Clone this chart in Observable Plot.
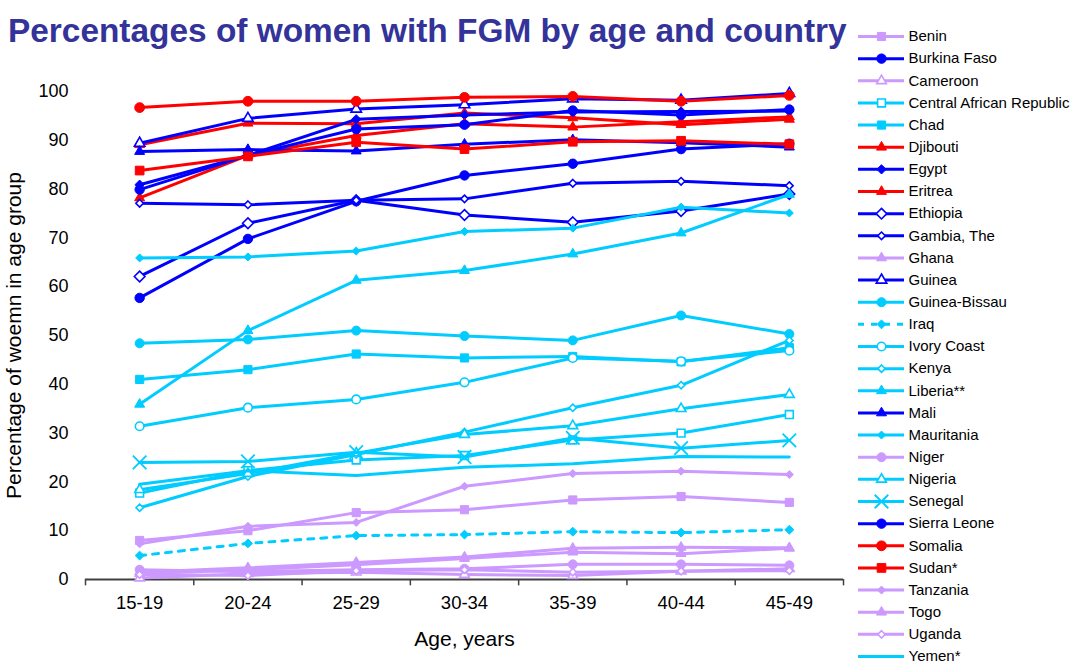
<!DOCTYPE html>
<html><head><meta charset="utf-8">
<script src="https://cdn.jsdelivr.net/npm/d3@7"></script>
<script src="https://cdn.jsdelivr.net/npm/@observablehq/plot@0.6"></script>
<style>
body{margin:0;background:#fff;font-family:"Liberation Sans",Arial,sans-serif;}
#wrap{position:relative;width:1070px;height:666px;overflow:hidden;background:#fff}
#title{position:absolute;left:8px;top:11px;font-size:33.4px;font-weight:bold;color:#333399;white-space:nowrap;line-height:1.2}
#chart{position:absolute;left:0;top:0}
#legend{position:absolute;left:850px;top:0}
</style></head><body>
<div id="wrap"><div id="chart"></div><div id="legend"></div><div id="title">Percentages of women with FGM by age and country</div></div>
<script>
// ---- data ----
const ages = ["15-19","20-24","25-29","30-34","35-39","40-44","45-49"];
const benin        = [8.0, 10.0, 13.7, 14.3, 16.3, 17.0, 15.8];
const burkinaFaso  = [57.7, 69.8, 77.5, 82.8, 85.2, 88.2, 89.3];
const cameroon     = [0.3, 1.2, 1.5, 1.0, 0.8, 1.7, 2.2];
const centralAfricanRepublic = [17.7, 22.3, 24.5, 25.4, 28.6, 30.0, 33.8];
const chad         = [41.0, 43.0, 46.2, 45.4, 45.7, 44.6, 47.5];
const djibouti     = [89.1, 93.5, 93.4, 95.6, 94.6, 93.2, 94.3];
const egypt        = [80.9, 86.9, 94.3, 95.2, 95.8, 95.9, 96.0];
const eritrea      = [78.2, 86.9, 91.0, 93.4, 92.7, 93.8, 94.8];
const ethiopia     = [62.1, 73.0, 77.7, 74.7, 73.2, 75.5, 79.0];
const gambia       = [77.1, 76.8, 77.7, 78.0, 81.2, 81.6, 80.7];
const ghana        = [1.5, 2.4, 3.5, 4.6, 6.4, 6.6, 6.5];
const guinea       = [89.4, 94.5, 96.4, 97.3, 98.5, 98.2, 99.6];
const guineaBissau = [48.4, 49.2, 51.0, 49.9, 49.0, 54.1, 50.3];
const iraq         = [4.9, 7.4, 9.0, 9.2, 9.8, 9.6, 10.2];
const ivoryCoast   = [31.4, 35.2, 36.9, 40.4, 45.4, 44.7, 46.9];
const kenya        = [14.7, 21.1, 25.6, 30.2, 35.2, 39.8, 49.0];
const liberia      = [35.9, 51.0, 61.3, 63.3, 66.7, 71.0, 78.9];
const mali         = [87.7, 88.1, 87.8, 89.2, 90.1, 89.5, 88.6];
const mauritania   = [65.9, 66.1, 67.3, 71.3, 72.0, 76.3, 75.1];
const niger        = [2.0, 1.6, 2.0, 2.2, 3.1, 3.1, 2.9];
const nigeria      = [18.4, 21.7, 25.9, 29.7, 31.5, 35.0, 37.9];
const senegal      = [24.0, 24.2, 26.1, 25.1, 29.0, 26.9, 28.5];
const sierraLeone  = [79.9, 86.9, 92.3, 93.2, 96.1, 95.2, 96.3];
const somalia      = [96.7, 98.0, 98.0, 98.8, 99.0, 98.0, 99.2];
const sudan        = [83.8, 86.7, 89.6, 88.2, 89.7, 89.9, 89.2];
const tanzania     = [7.3, 10.9, 11.7, 19.1, 21.7, 22.2, 21.5];
const togo         = [1.2, 2.0, 3.0, 4.3, 5.6, 5.3, 6.4];
const uganda       = [1.0, 0.8, 1.8, 2.0, 1.5, 1.7, 1.8];
const yemen        = [19.5, 22.3, 21.3, 23.0, 23.7, 25.2, 25.1];

const yTicks = [0, 10, 20, 30, 40, 50, 60, 70, 80, 90, 100];
const titleText = "Percentages of women with FGM by age and country";
const yLabel = "Percentage of woemn in age group";
const xLabel = "Age, years";

// ---- styles ----
const RED = "#FF0000", BLUE = "#0000FF", CYAN = "#00CCFF", PURPLE = "#CC99FF";
const series = [
  {name: "Benin", values: benin, color: PURPLE, symbol: "square", r: 4.6},
  {name: "Burkina Faso", values: burkinaFaso, color: BLUE, symbol: "circle", r: 4.7},
  {name: "Cameroon", values: cameroon, color: PURPLE, symbol: "triangle", r: 3.6, open: true},
  {name: "Central African Republic", values: centralAfricanRepublic, color: CYAN, symbol: "square", r: 4.4, open: true},
  {name: "Chad", values: chad, color: CYAN, symbol: "square", r: 4.6},
  {name: "Djibouti", values: djibouti, color: RED, symbol: "triangle", r: 3.7},
  {name: "Egypt", values: egypt, color: BLUE, symbol: "diamond2", r: 4.2},
  {name: "Eritrea", values: eritrea, color: RED, symbol: "triangle", r: 3.7},
  {name: "Ethiopia", values: ethiopia, color: BLUE, symbol: "diamond2", r: 4.8, open: true},
  {name: "Gambia, The", values: gambia, color: BLUE, symbol: "diamond2", r: 3.4, open: true},
  {name: "Ghana", values: ghana, color: PURPLE, symbol: "triangle", r: 3.7},
  {name: "Guinea", values: guinea, color: BLUE, symbol: "triangle", r: 3.9, open: true},
  {name: "Guinea-Bissau", values: guineaBissau, color: CYAN, symbol: "circle", r: 4.5},
  {name: "Iraq", values: iraq, color: CYAN, symbol: "diamond2", r: 4.0, dash: "6,7"},
  {name: "Ivory Coast", values: ivoryCoast, color: CYAN, symbol: "circle", r: 4.3, open: true},
  {name: "Kenya", values: kenya, color: CYAN, symbol: "diamond2", r: 3.3, open: true},
  {name: "Liberia**", values: liberia, color: CYAN, symbol: "triangle", r: 3.7},
  {name: "Mali", values: mali, color: BLUE, symbol: "triangle", r: 3.7},
  {name: "Mauritania", values: mauritania, color: CYAN, symbol: "diamond2", r: 3.6},
  {name: "Niger", values: niger, color: PURPLE, symbol: "circle", r: 4.5},
  {name: "Nigeria", values: nigeria, color: CYAN, symbol: "triangle", r: 3.6, open: true},
  {name: "Senegal", values: senegal, color: CYAN, symbol: "times", r: 6.2, cross: true},
  {name: "Sierra Leone", values: sierraLeone, color: BLUE, symbol: "circle", r: 4.7},
  {name: "Somalia", values: somalia, color: RED, symbol: "circle", r: 4.9},
  {name: "Sudan*", values: sudan, color: RED, symbol: "square", r: 4.9},
  {name: "Tanzania", values: tanzania, color: PURPLE, symbol: "diamond2", r: 3.6},
  {name: "Togo", values: togo, color: PURPLE, symbol: "triangle", r: 3.7},
  {name: "Uganda", values: uganda, color: PURPLE, symbol: "diamond2", r: 3.3, open: true},
  {name: "Yemen*", values: yemen, color: CYAN, symbol: null}
];

const FONT = '"Liberation Sans", Arial, Helvetica, sans-serif';

function dotOpts(s, extra) {
  return Object.assign({
    symbol: s.symbol,
    r: s.r,
    fill: s.cross ? "none" : (s.open ? "white" : s.color),
    stroke: s.color,
    strokeWidth: s.cross ? 1.8 : (s.open ? 1.6 : 1)
  }, extra);
}

// ---- main chart ----
const idx = (d, i) => i;
const bounds = ages.map((_, i) => i - 0.5).concat([ages.length - 0.5]);
const marks = [
  Plot.ruleY([0], {x1: -0.5, x2: ages.length - 0.5, stroke: "#404040", strokeWidth: 2}),
  Plot.ruleX(bounds, {y1: 0, y2: -1.3, stroke: "#404040", strokeWidth: 1.5}),
  Plot.text(ages, {x: idx, frameAnchor: "bottom", dy: 29, text: d => d, fontSize: 18.5, fill: "#000"}),
  Plot.text([xLabel], {frameAnchor: "bottom", dy: 66, text: d => d, fontSize: 21, fill: "#000"}),
  Plot.text([yLabel], {frameAnchor: "left", dx: -71, rotate: -90, textAnchor: "middle", text: d => d, fontSize: 21, fill: "#000"})
];
for (const s of series) {
  marks.push(Plot.line(s.values, {x: idx, y: d => d, stroke: s.color, strokeWidth: 3, strokeDasharray: s.dash}));
  if (s.symbol) marks.push(Plot.dot(s.values, dotOpts(s, {x: idx, y: d => d})));
}

const chart = Plot.plot({
  width: 850, height: 666,
  marginLeft: 85, marginRight: 7, marginTop: 91, marginBottom: 87,
  x: {domain: [-0.5, ages.length - 0.5], axis: null},
  y: {domain: [0, 100], ticks: yTicks, tickSize: 0, tickPadding: 17, label: null, tickFormat: d => String(d)},
  style: {fontFamily: FONT, fontSize: "18px", color: "#000", background: "transparent", overflow: "visible"},
  marks
});
document.getElementById("chart").appendChild(chart);

// ---- legend ----
const names = series.map(s => s.name);
const lmarks = [];
series.forEach((s, i) => {
  lmarks.push(Plot.ruleY([i], {y: d => d, x1: 8, x2: 54, stroke: s.color, strokeWidth: 3, strokeDasharray: s.dash}));
  if (s.symbol) lmarks.push(Plot.dot([i], dotOpts(s, {x: 31, y: d => d})));
});
lmarks.push(Plot.text(names, {x: 58, y: (d, i) => i, text: d => d, textAnchor: "start", fontSize: 15, fill: "#000"}));
const legend = Plot.plot({
  width: 220, height: 666, margin: 0,
  x: {domain: [0, 220], range: [0, 220], axis: null},
  y: {domain: [0, names.length - 1], range: [36, 656], axis: null},
  style: {fontFamily: FONT, fontSize: "15px", color: "#000", background: "transparent", overflow: "visible"},
  marks: lmarks
});
document.getElementById("legend").appendChild(legend);
document.getElementById("title").textContent = titleText;
</script></body></html>
